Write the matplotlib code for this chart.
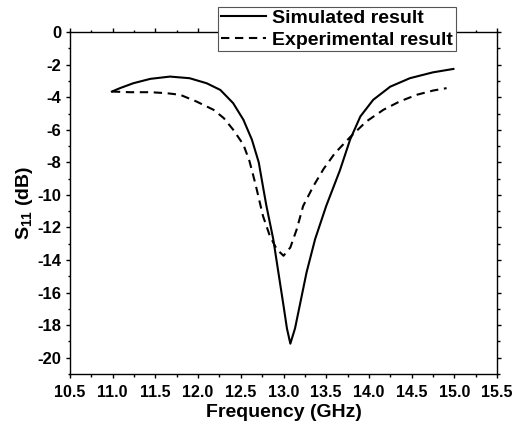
import numpy as np
import matplotlib
matplotlib.use("Agg")
import matplotlib.pyplot as plt
from matplotlib.ticker import MultipleLocator, FormatStrFormatter

plt.rcParams['font.family'] = ['Liberation Sans', 'DejaVu Sans']
plt.rcParams['font.weight'] = 'bold'
plt.rcParams['axes.unicode_minus'] = False
plt.rcParams['mathtext.fontset'] = 'custom'
plt.rcParams['mathtext.bf'] = 'Liberation Sans:bold'
plt.rcParams['mathtext.rm'] = 'Liberation Sans:bold'

# simulated S11
sim_f = [10.99, 11.085, 11.24, 11.44, 11.67, 11.9, 12.1, 12.26, 12.41, 12.53, 12.63,
         12.71, 12.76, 12.8, 12.88, 12.94, 13.0, 13.04, 13.08, 13.135, 13.19, 13.27,
         13.37, 13.5, 13.66, 13.78, 13.9, 14.05, 14.25, 14.48, 14.75, 14.99]
sim_s11 = [-3.65, -3.44, -3.14, -2.87, -2.73, -2.83, -3.14, -3.55, -4.36, -5.38, -6.61,
           -8.0, -9.5, -10.68, -12.72, -14.76, -16.8, -18.2, -19.14, -18.2, -16.8, -14.76,
           -12.72, -10.68, -8.5, -6.6, -5.18, -4.16, -3.35, -2.83, -2.47, -2.26]

# measured S11
exp_f = [10.99, 11.2, 11.44, 11.63, 11.79, 11.98, 12.18, 12.3, 12.41, 12.53, 12.6,
         12.67, 12.76, 12.84, 12.92, 13.0, 13.08, 13.155, 13.23, 13.35, 13.47, 13.6,
         13.78, 13.97, 14.17, 14.36, 14.56, 14.75, 14.91]
exp_s11 = [-3.65, -3.69, -3.69, -3.75, -3.85, -4.26, -4.77, -5.28, -5.99, -6.91, -7.9,
           -9.3, -11.3, -12.52, -13.33, -13.74, -13.23, -12.11, -10.68, -9.46, -8.4, -7.45,
           -6.45, -5.49, -4.77, -4.26, -3.85, -3.59, -3.44]

fig = plt.figure(figsize=(5.15, 4.23), dpi=100)
ax = fig.add_axes([0.136, 0.116, 0.829, 0.808])

ax.plot(sim_f, sim_s11, color='black', lw=1.5, label='Simulated result')
ax.plot(exp_f, exp_s11, color='black', lw=1.5, ls=(0, (4, 2.7)), label='Experimental result')

ax.set_xlim(10.5, 15.5)
ax.set_ylim(-21, 0)
ax.xaxis.set_major_locator(MultipleLocator(0.5))
ax.xaxis.set_minor_locator(MultipleLocator(0.25))
ax.yaxis.set_major_locator(MultipleLocator(2))
ax.yaxis.set_minor_locator(MultipleLocator(1))
ax.xaxis.set_major_formatter(FormatStrFormatter('%.1f'))
ax.tick_params(which='both', direction='out', top=True, right=True,
               labelsize=11.5, width=1.0)
ax.tick_params(axis='x', which='both', pad=5)
ax.tick_params(axis='y', which='both', pad=3, labelsize=12)
ax.tick_params(which='major', length=3.2)
ax.tick_params(which='minor', length=1.8)
for s in ax.spines.values():
    s.set_linewidth(1.0)

ax.set_xlabel('Frequency (GHz)', fontsize=14, fontweight='bold', labelpad=3)
ax.set_ylabel(r'S$_{\mathbf{11}}$ (dB)', fontsize=14, fontweight='bold', labelpad=2)

leg = ax.legend(loc='upper right', bbox_to_anchor=(0.903, 1.075), fontsize=14,
                frameon=True, fancybox=False, edgecolor='#555555', framealpha=1,
                handlelength=2.3, borderpad=0.15, labelspacing=0.2, handletextpad=0.3,
                borderaxespad=0)
leg.get_frame().set_linewidth(0.8)

fig.savefig('out.png', dpi=100)
